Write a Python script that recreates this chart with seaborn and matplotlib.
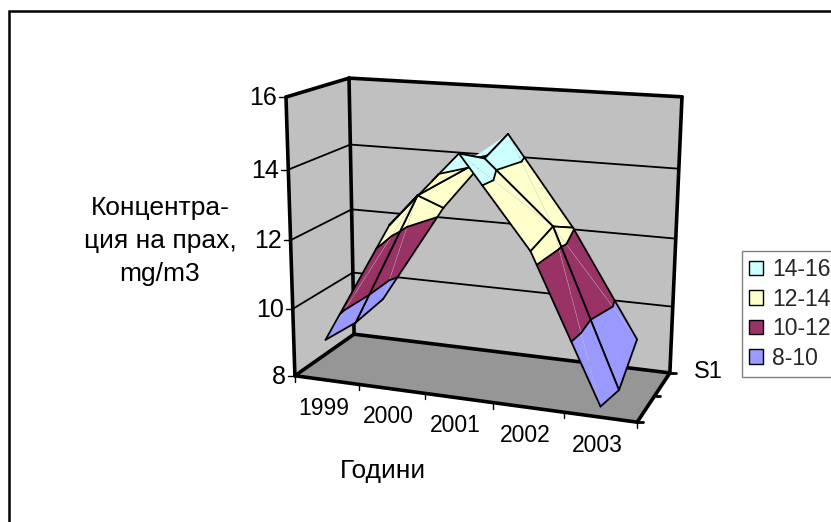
import numpy as np
import pandas as pd
import seaborn as sns
import matplotlib.pyplot as plt
from matplotlib.patches import Patch

years = ["1999", "2000", "2001", "2002", "2003"]
# surface values, one list per depth row (front, middle, back)
row_front = [9.2, 12.7, 14.8, 12.35, 8.3]
row_mid = [9.1, 13.1, 14.3, 12.55, 8.05]
row_back = [9.25, 12.3, 14.65, 12.05, 8.9]
levels = [8, 10, 12, 14, 16]
band_labels = ["8-10", "10-12", "12-14", "14-16"]
band_colors = ["#9999FF", "#993366", "#FFFFCC", "#CCFFFF"]
y_ticks = [8, 10, 12, 14, 16]

sns.set_theme(style="white", rc={"font.family": ["Liberation Sans", "DejaVu Sans"]})
palette = sns.color_palette(band_colors)

fig = plt.figure(figsize=(8.31, 5.22), dpi=100)
ax = fig.add_axes([0, 0, 1, 1])
ax.set_xlim(0, 831)
ax.set_ylim(522, 0)
ax.axis("off")

# camera: fit a perspective matrix to where the box corners sit in the image
box = [((0, 0, 0), (295, 375)), ((0, 0, 1), (286, 97)), ((0, 1, 0), (354, 335)),
       ((0, 1, 1), (349, 78)), ((1, 1, 1), (682, 97)), ((1, 1, 0), (670, 372)),
       ((1, 0, 0), (637, 423))]
eqs = []
for (a, b, c), (sx, sy) in box:
    eqs.append([a, b, c, 1, 0, 0, 0, 0, -sx * a, -sx * b, -sx * c, -sx])
    eqs.append([0, 0, 0, 0, a, b, c, 1, -sy * a, -sy * b, -sy * c, -sy])
cam = np.linalg.svd(np.array(eqs, dtype=float))[2][-1].reshape(3, 4)


def proj(u, d, v):
    w = (v - levels[0]) / (levels[-1] - levels[0])
    p = cam @ np.array([u, d, w, 1.0])
    return p[0] / p[2], p[1] / p[2]


def edge(a, b, lw, color="black", z=2, alpha=1):
    df = pd.DataFrame([proj(*a), proj(*b)], columns=["x", "y"])
    sns.lineplot(data=df, x="x", y="y", sort=False, estimator=None, ax=ax,
                 color=color, lw=lw, zorder=z, alpha=alpha, legend=False)


def face(pts, color, z=1):
    xy = [proj(*p) for p in pts]
    ax.fill([q[0] for q in xy], [q[1] for q in xy], color=color, lw=0, zorder=z)


# walls and floor
lo, hi = y_ticks[0], y_ticks[-1]
face([(0, 0, lo), (0, 1, lo), (0, 1, hi), (0, 0, hi)], "#C0C0C0")
face([(0, 1, lo), (1, 1, lo), (1, 1, hi), (0, 1, hi)], "#C0C0C0")
face([(0, 0, lo), (1, 0, lo), (1, 1, lo), (0, 1, lo)], "#969696")

for t in y_ticks[1:-1]:
    edge((0, 0, t), (0, 1, t), 1.3)
    edge((0, 1, t), (1, 1, t), 1.3)
for a, b in [((0, 0, lo), (0, 0, hi)), ((0, 1, lo), (0, 1, hi)), ((1, 1, lo), (1, 1, hi)),
             ((0, 0, hi), (0, 1, hi)), ((0, 1, hi), (1, 1, hi)), ((0, 0, lo), (1, 0, lo)),
             ((0, 1, lo), (1, 1, lo)), ((0, 0, lo), (0, 1, lo)), ((1, 0, lo), (1, 1, lo))]:
    edge(a, b, 2.6)

# ticks and their labels
for t in y_ticks:
    x0, y0 = proj(0, 0, t)
    ax.plot([x0 - 7, x0], [y0, y0], color="black", lw=1, zorder=2)
    ax.text(x0 - 9, y0 + 1, str(t), ha="right", va="center", fontsize=18, color="black")
for i in range(len(years) + 1):
    x0, y0 = proj(i / len(years), 0, lo)
    ax.plot([x0, x0], [y0, y0 + 6], color="black", lw=1, zorder=2)
for i, name in enumerate(years):
    x0, y0 = proj((i + 0.5) / len(years), 0, lo)
    ax.text(x0 - 3, y0 + 28, name, ha="center", va="center", fontsize=16.5, color="black")
for d in [0, 0.5, 1]:
    x0, y0 = proj(1, d, lo)
    ax.plot([x0, x0 + 6], [y0, y0], color="black", lw=2, zorder=2)

ax.text(160, 241, "Концентра-\nция на прах,\nmg/m3", ha="center", va="center",
        fontsize=19, color="black", linespacing=1.45)
ax.text(383, 471, "Години", ha="center", va="center", fontsize=19, color="black")
ax.text(708, 372, "S1", ha="center", va="center", fontsize=17, color="black")

# surface: each cell is split in two triangles, every triangle is cut at the levels
grid = np.array([row_front, row_mid, row_back])
n_rows, n_cols = grid.shape


def vertex(i, j):
    return ((i + 0.5) / n_cols, j / (n_rows - 1), grid[j, i])


def clip(poly, level, keep_above):
    out = []
    for k, p in enumerate(poly):
        q = poly[(k + 1) % len(poly)]
        inside_p = (p[2] >= level) == keep_above
        inside_q = (q[2] >= level) == keep_above
        if inside_p:
            out.append(p)
        if inside_p != inside_q:
            f = (level - p[2]) / (q[2] - p[2])
            out.append(tuple(p[m] + f * (q[m] - p[m]) for m in range(3)))
    return out


z = 5
for i in range(n_cols - 1):
    for j in range(n_rows - 2, -1, -1):
        a, b = vertex(i, j), vertex(i + 1, j)
        c, e = vertex(i + 1, j + 1), vertex(i, j + 1)
        # the diagonal starts from the corner with even index sum
        if (i + j) % 2 == 0:
            tris, diag = [(a, b, c), (a, c, e)], (a, c)
        else:
            tris, diag = [(a, b, e), (b, c, e)], (b, e)
        for tri in tris:
            for k in range(len(band_labels)):
                part = clip(list(tri), levels[k], True)
                part = clip(part, levels[k + 1], False) if part else part
                if len(part) > 2:
                    face(part, palette[k], z)
        edge(diag[0], diag[1], 0.4, "#CCCCCC", z + 1, alpha=0.6)
        for tri in tris:
            for lev in levels[1:-1]:
                hits = []
                for k in range(3):
                    p, q = tri[k], tri[(k + 1) % 3]
                    if (p[2] >= lev) != (q[2] >= lev):
                        f = (lev - p[2]) / (q[2] - p[2])
                        hits.append(tuple(p[m] + f * (q[m] - p[m]) for m in range(3)))
                if len(hits) == 2:
                    edge(hits[0], hits[1], 1.3, "black", z + 2)
        for p, q in [(a, b), (b, c), (c, e), (e, a)]:
            edge(p, q, 1.3, "black", z + 2)
        z += 3

# chart frame, open on the cut-off sides
ax.plot([8.5, 8.5, 831], [522, 10.5, 10.5], color="black", lw=1.8, zorder=1, solid_joinstyle="miter")

handles = [Patch(facecolor=palette[k], edgecolor="black", lw=1) for k in range(3, -1, -1)]
leg = ax.legend(handles, band_labels[::-1], loc="upper left", bbox_to_anchor=(742, 251),
                bbox_transform=ax.transData, fontsize=16.5, frameon=True, fancybox=False,
                edgecolor="#808080", framealpha=1, borderpad=0.3, borderaxespad=0,
                handlelength=0.6, handleheight=0.6, handletextpad=0.4, labelspacing=0.29)
leg.get_frame().set_linewidth(1)
leg.set_zorder(100)

fig.savefig("out.png", dpi=100)
